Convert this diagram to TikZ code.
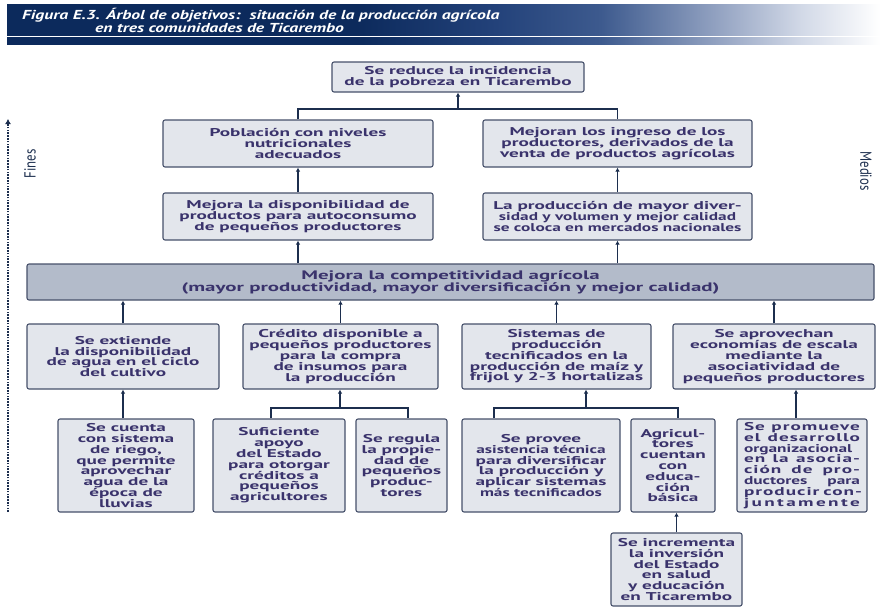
\documentclass[tikz,border=0pt]{standalone}
\usepackage{fontspec}
\setmainfont{PT Sans}
\newfontfamily\bxf[FakeStretch=1.7]{PT Sans}
\newfontfamily\bxn[FakeStretch=1.53]{PT Sans}
\newfontfamily\bxl[FakeStretch=1.7,LetterSpace=9]{PT Sans}
\newfontfamily\ttlf[FakeStretch=1.36]{PT Sans}
\newfontfamily\sdf[FakeStretch=0.8]{PT Sans}
\usetikzlibrary{arrows.meta}
\definecolor{navy}{HTML}{0C2A5C}
\definecolor{navyb}{HTML}{23427A}
\definecolor{navyc}{HTML}{3D5A8E}
\definecolor{navyd}{HTML}{97A6C4}
\definecolor{navye}{HTML}{D2D9E7}
\definecolor{boxfill}{HTML}{E3E6EC}
\definecolor{barfill}{HTML}{B3BBCA}
\definecolor{boxline}{HTML}{46506A}
\definecolor{txt}{HTML}{3A336C}
\definecolor{conn}{HTML}{1C2E4E}
\pgfdeclarehorizontalshading{banner}{100bp}{color(0bp)=(navy); color(25bp)=(navy); color(45bp)=(navy); color(53bp)=(navyb); color(59bp)=(navyc); color(66bp)=(navyd); color(70.5bp)=(navye); color(75bp)=(white); color(100bp)=(white)}
\newcommand{\jline}[1]{\makebox[116pt][s]{#1}}
\begin{document}
\begin{tikzpicture}[x=1pt,y=-1pt,
  obj/.style={draw=boxline, line width=1.1pt, rounded corners=2pt, fill=boxfill, text=txt,
    font=\bxf\bfseries\fontsize{11.3}{10.8}\selectfont, align=center, inner sep=0pt},
  barbox/.style={obj, fill=barfill, font=\bxf\bfseries\fontsize{12.3}{12}\selectfont},
  arr/.style={draw=conn, line width=1.3pt, -{Latex[length=4pt,width=4.5pt]}},
  lin/.style={draw=conn, line width=1.3pt},
  side/.style={text=conn, font=\sdf\fontsize{16}{16}\selectfont, inner sep=0pt},
  ttl/.style={text=white, font=\ttlf\bfseries\itshape\fontsize{13}{13}\selectfont, inner sep=0pt, anchor=base west}]
\useasboundingbox (0,0) rectangle (880,608);
% title banner
\shade[shading=banner] (7,4) rectangle (880,35);
\shade[shading=banner] (7,37) rectangle (880,44);
\node[ttl] (t1) at (22,19) {Figura E.3. Árbol de objetivos:\ \ situación de la producción agrícola};
\node[ttl] (t2) at (95,32) {en tres comunidades de Ticarembo};
% side axis
\coordinate (ax0) at (8,512);
\coordinate (ax1) at (8,119);
\draw[draw=conn, line width=2.2pt, dash pattern=on 1.6pt off 1.2pt, -{Latex[length=5pt,width=6pt]}] (ax0) -- (ax1);
\node[side, rotate=90] (fines) at (30,164) {Fines};
\node[side, rotate=-90] (medios) at (866,171) {Medios};
% level 1
\node[obj, minimum width=252pt, minimum height=30pt] (top) at (458,77) {Se reduce la incidencia\\de la pobreza en Ticarembo};
% level 2
\node[obj, minimum width=270pt, minimum height=47pt] (l2l) at (298,143.5) {Población con niveles\\nutricionales\\adecuados};
\node[obj, minimum width=269pt, minimum height=47pt] (l2r) at (617.5,143.5) {Mejoran los ingreso de los\\productores, derivados de la\\venta de productos agrícolas};
% level 3
\node[obj, minimum width=270pt, minimum height=47pt] (l3l) at (298,216.5) {Mejora la disponibilidad de\\productos para autoconsumo\\de pequeños productores};
\node[obj, minimum width=269pt, minimum height=47pt] (l3r) at (617.5,216.5) {La producción de mayor diver-\\{\bxn\bfseries sidad y volumen y mejor calidad}\\{\bxn\bfseries se coloca en mercados nacionales}};
% bar
\node[barbox, minimum width=847pt, minimum height=36pt] (bar) at (450.5,282) {Mejora la competitividad agrícola\\(mayor productividad, mayor diversificación y mejor calidad)};
% level 4
\node[obj, minimum width=192pt, minimum height=65pt] (b1) at (123,356.5) {Se extiende\\la disponibilidad\\de agua en el ciclo\\del cultivo};
\node[obj, minimum width=195pt, minimum height=65pt] (b2) at (340.5,356.5) {Crédito disponible a\\pequeños productores\\para la compra\\de insumos para\\la producción};
\node[obj, minimum width=189pt, minimum height=65pt] (b3) at (556.5,356.5) {Sistemas de\\producción\\tecnificados en la\\producción de maíz y\\frijol y 2-3 hortalizas};
\node[obj, minimum width=202pt, minimum height=65pt] (b4) at (774,356.5) {Se aprovechan\\economías de escala\\mediante la\\asociatividad de\\pequeños productores};
% level 5
\node[obj, minimum width=136pt, minimum height=93pt] (a) at (126,465.5) {Se cuenta\\con sistema\\de riego,\\que permite\\aprovechar\\agua de la\\época de\\lluvias};
\node[obj, minimum width=132pt, minimum height=93pt] (b) at (279,465.5) {Suficiente\\apoyo\\del Estado\\para otorgar\\créditos a\\pequeños\\agricultores};
\node[obj, minimum width=91pt, minimum height=93pt] (c) at (401.5,465.5) {Se regula\\la propie-\\dad de\\pequeños\\produc-\\tores};
\node[obj, minimum width=158pt, minimum height=93pt] (d) at (541,465.5) {Se provee\\{\bxn\bfseries asistencia técnica}\\para diversificar\\la producción y\\aplicar sistemas\\{\bxn\bfseries más tecnificados}};
\node[obj, minimum width=84pt, minimum height=93pt] (e) at (673,465.5) {Agricul-\\tores\\cuentan\\con\\educa-\\ción\\básica};
\node[obj, minimum width=130pt, minimum height=93pt] (f) at (802,465.5) {\jline{\bxl\bfseries Se promueve}\\\jline{\bxl\bfseries el desarrollo}\\\jline{\bxn\bfseries organizacional}\\\jline{\bxl\bfseries en la asocia-}\\\jline{\bxl\bfseries ción de pro-}\\\jline{\bxn\bfseries ductores para}\\\jline{\bxl\bfseries producir con-}\\\jline{j\hfill u\hfill n\hfill t\hfill a\hfill m\hfill e\hfill n\hfill t\hfill e}};
\node[obj, minimum width=131pt, minimum height=73pt] (g) at (676.5,569.5) {Se incrementa\\la inversión\\del Estado\\en salud\\y educación\\en Ticarembo};
% connectors
\coordinate (j1) at (458,109);
\draw[lin] (l2l.north) |- (j1) -| (l2r.north);
\draw[arr] (j1) -- (top.south);
\draw[arr] (l3l.north) -- (l2l.south);
\draw[arr] (l3r.north) -- (l2r.south);
\draw[arr] (bar.north -| l3l.south) -- (l3l.south);
\draw[arr] (bar.north -| l3r.south) -- (l3r.south);
\draw[arr] (b1.north) -- (b1.north |- bar.south);
\draw[arr] (b2.north) -- (b2.north |- bar.south);
\draw[arr] (b3.north) -- (b3.north |- bar.south);
\draw[arr] (b4.north) -- (b4.north |- bar.south);
\draw[arr] (b1.south |- a.north) -- (b1.south);
\coordinate (j2) at (340,408);
\draw[lin] ([xshift=-8pt]b.north) |- (j2) -| ([xshift=6.5pt]c.north);
\draw[arr] (j2) -- (j2 |- b2.south);
\coordinate (j3) at (586,408);
\draw[lin] ([xshift=-47pt]d.north) |- (j3) -| ([xshift=5pt]e.north);
\draw[arr] (j3) -- (j3 |- b3.south);
\draw[arr] ([xshift=-6pt]f.north) -- ([xshift=-6pt]f.north |- b4.south);
\draw[arr] (g.north) -- (g.north |- e.south);
\end{tikzpicture}
\end{document}
